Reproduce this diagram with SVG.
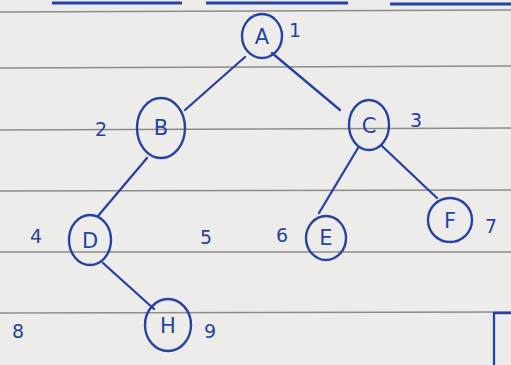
<svg xmlns="http://www.w3.org/2000/svg" width="511" height="365" viewBox="0 0 511 365">
<style>
.rule{stroke:#8c8c8c;stroke-width:1.3;fill:none}
.ink{stroke:#2642a3;stroke-width:2.3;fill:none;stroke-linecap:round}
.node ellipse{stroke:#2642a3;stroke-width:2.4;fill:none}
.node text{font-family:"DejaVu Sans",sans-serif;font-size:21px;fill:#2642a3;text-anchor:middle;dominant-baseline:central}
.num{font-family:"DejaVu Sans",sans-serif;font-size:19px;fill:#2642a3;text-anchor:middle;dominant-baseline:central}
</style>
<rect width="511" height="365" fill="#edecea"/>
<g id="paper">
<line class="rule" x1="0" y1="12" x2="511" y2="10"/>
<line class="rule" x1="0" y1="68" x2="511" y2="66"/>
<line class="rule" x1="0" y1="130" x2="511" y2="128"/>
<line class="rule" x1="0" y1="191" x2="511" y2="190"/>
<line class="rule" x1="0" y1="252" x2="511" y2="252"/>
<line class="rule" x1="0" y1="313" x2="511" y2="312"/>
<path d="M52 3 H182 M206 3 H348 M390 4 H511" stroke="#2642a3" stroke-width="3" fill="none"/>
<path d="M494 365 V313 H511" stroke="#2642a3" stroke-width="2.3" fill="none"/>
</g>
<g id="connectors">
<line class="ink" x1="245" y1="57" x2="185" y2="110"/>
<line class="ink" x1="272" y1="53" x2="340" y2="110"/>
<line class="ink" x1="147" y1="158" x2="98" y2="216"/>
<line class="ink" x1="358" y1="148" x2="319" y2="213"/>
<line class="ink" x1="382" y1="146" x2="437" y2="198"/>
<line class="ink" x1="103" y1="263" x2="154" y2="309"/>
</g>
<g id="node-A" class="node"><ellipse cx="262" cy="36" rx="20" ry="22"/><text x="262" y="37">A</text></g>
<g id="node-B" class="node"><ellipse cx="161" cy="128" rx="24" ry="30"/><text x="161" y="128">B</text></g>
<g id="node-C" class="node"><ellipse cx="369" cy="125" rx="20" ry="25"/><text x="369" y="126">C</text></g>
<g id="node-D" class="node"><ellipse cx="90" cy="240" rx="21" ry="25"/><text x="90" y="241">D</text></g>
<g id="node-E" class="node"><ellipse cx="326" cy="238" rx="20" ry="22"/><text x="326" y="238">E</text></g>
<g id="node-F" class="node"><ellipse cx="450" cy="220" rx="22" ry="22"/><text x="450" y="221">F</text></g>
<g id="node-H" class="node"><ellipse cx="168" cy="325" rx="23" ry="26"/><text x="168" y="326">H</text></g>
<g id="labels">
<text class="num" x="295" y="30">1</text>
<text class="num" x="101" y="129">2</text>
<text class="num" x="416" y="120">3</text>
<text class="num" x="36" y="236">4</text>
<text class="num" x="206" y="237">5</text>
<text class="num" x="282" y="235">6</text>
<text class="num" x="491" y="226">7</text>
<text class="num" x="18" y="331">8</text>
<text class="num" x="210" y="331">9</text>
</g>
</svg>
